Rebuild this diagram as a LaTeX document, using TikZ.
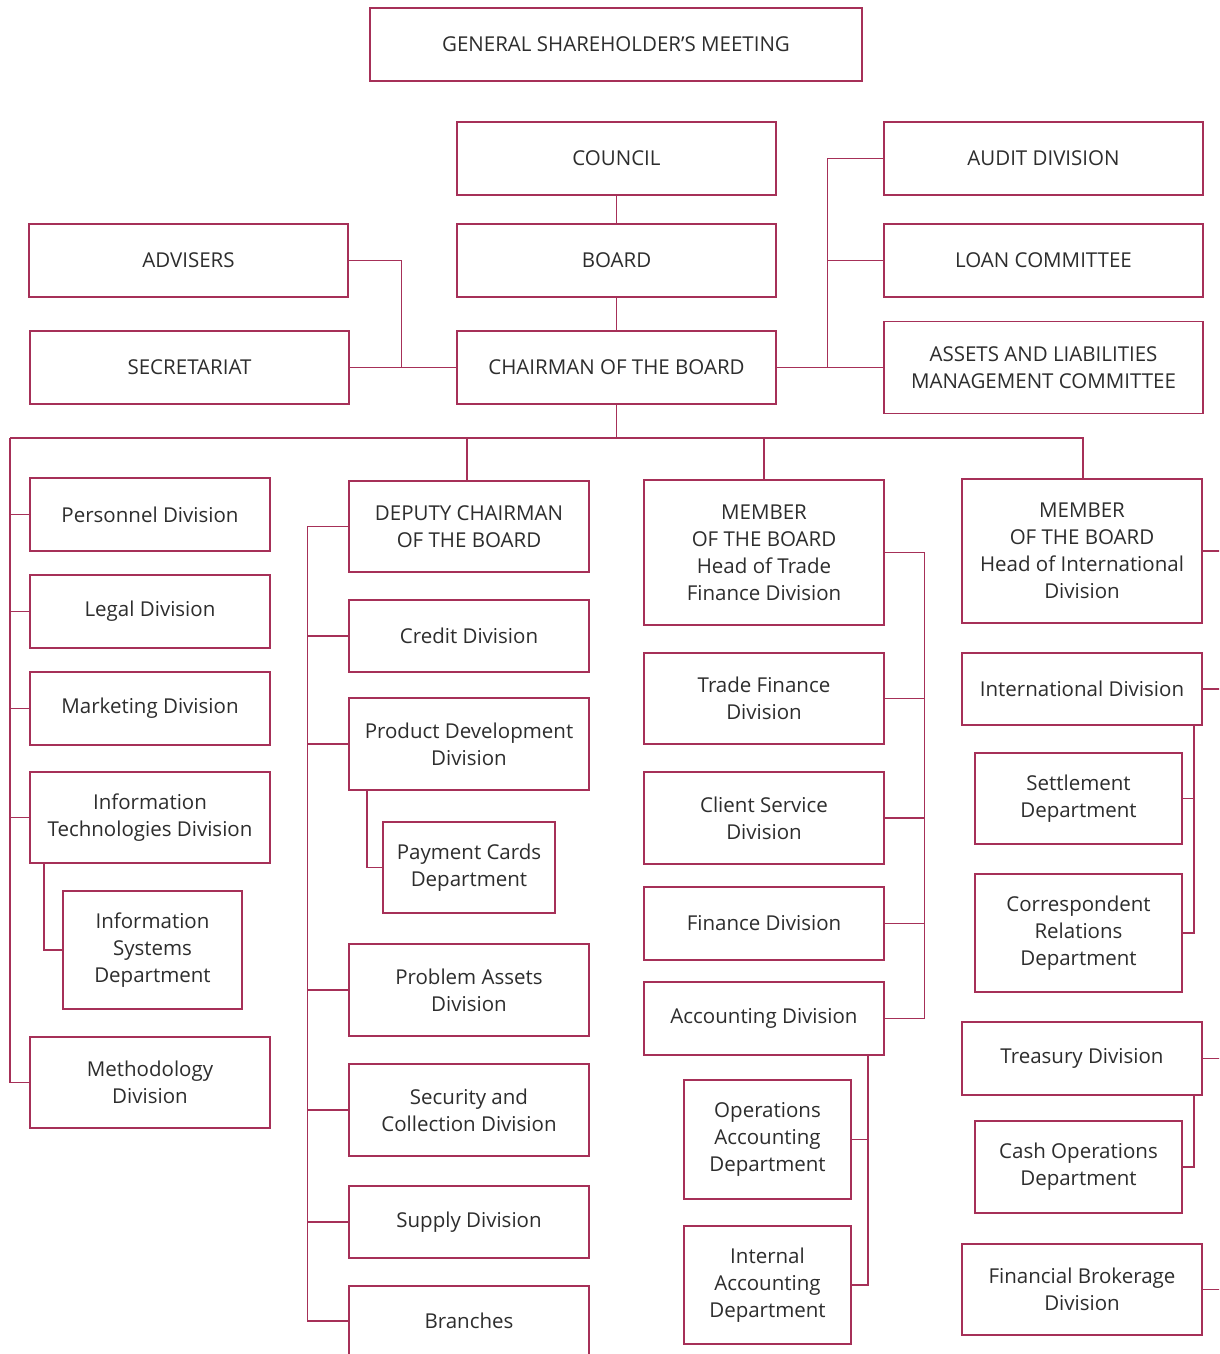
\documentclass[tikz,border=0pt]{standalone}
\usepackage{fontspec}
\setmainfont{Open Sans}
\definecolor{lc}{RGB}{166,48,88}
\definecolor{tc}{RGB}{45,45,45}
\begin{document}
\begin{tikzpicture}[x=1pt,y=-1pt,
  box/.style={draw=lc, line width=1.3pt, align=center, text=tc, inner sep=2pt,
    font=\fontsize{20.5}{27}\selectfont},
  conn/.style={draw=lc, line width=1.3pt}]
\useasboundingbox (0,0) rectangle (1219,1354);
\clip (0,0) rectangle (1219,1354);
\fill[white] (0,0) rectangle (1219,1354);
% top
\node[box, minimum width=492pt, minimum height=73pt] (gsm) at (616,44.5) {GENERAL SHAREHOLDER’S MEETING};
\node[box, minimum width=319pt, minimum height=73pt] (council) at (616.5,158.5) {COUNCIL};
\node[box, minimum width=319pt, minimum height=73pt] (board) at (616.5,260.5) {BOARD};
\node[box, minimum width=319pt, minimum height=73pt] (chair) at (616.5,367.5) {CHAIRMAN OF THE BOARD};
\node[box, minimum width=319pt, minimum height=73pt] (adv) at (188.5,260.5) {ADVISERS};
\node[box, minimum width=319pt, minimum height=73pt] (secr) at (189.5,367.5) {SECRETARIAT};
\node[box, minimum width=319pt, minimum height=73pt] (audit) at (1043.5,158.5) {AUDIT DIVISION};
\node[box, minimum width=319pt, minimum height=73pt] (loan) at (1043.5,260.5) {LOAN COMMITTEE};
\node[box, minimum width=319pt, minimum height=92pt] (alco) at (1043.5,367.5) {ASSETS AND LIABILITIES\\MANAGEMENT COMMITTEE};
% left column
\node[box, minimum width=240pt, minimum height=73pt] (pers) at (150,514.5) {Personnel Division};
\node[box, minimum width=240pt, minimum height=73pt] (legal) at (150,611.5) {Legal Division};
\node[box, minimum width=240pt, minimum height=73pt] (mkt) at (150,708.5) {Marketing Division};
\node[box, minimum width=240pt, minimum height=91pt] (it) at (150,817.5) {Information\\Technologies Division};
\node[box, minimum width=179pt, minimum height=118pt] (isd) at (152.5,950) {Information\\Systems\\Department};
\node[box, minimum width=240pt, minimum height=91pt] (meth) at (150,1082.5) {Methodology\\Division};
% deputy column
\node[box, minimum width=240pt, minimum height=91pt] (dep) at (469,526.5) {DEPUTY CHAIRMAN\\OF THE BOARD};
\node[box, minimum width=240pt, minimum height=72pt] (credit) at (469,636) {Credit Division};
\node[box, minimum width=240pt, minimum height=92pt] (prod) at (469,744) {Product Development\\Division};
\node[box, minimum width=172pt, minimum height=91pt] (pay) at (469,867.5) {Payment Cards\\Department};
\node[box, minimum width=240pt, minimum height=92pt] (prob) at (469,990) {Problem Assets\\Division};
\node[box, minimum width=240pt, minimum height=92pt] (sec) at (469,1110) {Security and\\Collection Division};
\node[box, minimum width=240pt, minimum height=72pt] (supply) at (469,1222) {Supply Division};
\node[box, minimum width=240pt, minimum height=70pt] (branch) at (469,1321) {Branches};
% trade column
\node[box, minimum width=240pt, minimum height=145pt] (memt) at (764,552.5) {MEMBER\\OF THE BOARD\\Head of Trade\\Finance Division};
\node[box, minimum width=240pt, minimum height=91pt] (tfd) at (764,698.5) {Trade Finance\\Division};
\node[box, minimum width=240pt, minimum height=92pt] (csd) at (764,818) {Client Service\\Division};
\node[box, minimum width=240pt, minimum height=73pt] (fin) at (764,923.5) {Finance Division};
\node[box, minimum width=240pt, minimum height=73pt] (acct) at (764,1018.5) {Accounting Division};
\node[box, minimum width=167pt, minimum height=119pt] (ops) at (767.5,1139.5) {Operations\\Accounting\\Department};
\node[box, minimum width=167pt, minimum height=118pt] (inta) at (767.5,1285) {Internal\\Accounting\\Department};
% international column
\node[box, minimum width=240pt, minimum height=144pt] (memi) at (1082,551) {MEMBER\\OF THE BOARD\\Head of International\\Division};
\node[box, minimum width=240pt, minimum height=72pt] (intl) at (1082,689) {International Division};
\node[box, minimum width=207pt, minimum height=91pt] (settle) at (1078.5,798.5) {Settlement\\Department};
\node[box, minimum width=207pt, minimum height=118pt] (corr) at (1078.5,933) {Correspondent\\Relations\\Department};
\node[box, minimum width=240pt, minimum height=73pt] (treas) at (1082,1058.5) {Treasury Division};
\node[box, minimum width=207pt, minimum height=92pt] (cash) at (1078.5,1167) {Cash Operations\\Department};
\node[box, minimum width=240pt, minimum height=91pt] (fbd) at (1082,1289.5) {Financial Brokerage\\Division};
% connectors top
\draw[conn] (council) -- (board);
\draw[conn] (board) -- (chair);
\draw[conn] (adv.east) -- ++(53,0) |- (chair.west);
\draw[conn] (secr.east) -- (chair.west);
\draw[conn] (audit.west) -- ++(-56,0) |- (alco.west);
\draw[conn] (loan.west) -- ++(-56,0);
\draw[conn] (chair.east) -- (alco.west);
% bus
\coordinate (busL) at (10,438);
\coordinate (busR) at (1083,438);
\draw[conn] (chair.south) -- (chair.south |- busL);
\draw[conn] (busL) -- (busR) -- (memi.north -| busR);
\draw[conn] (dep.north -| 467,0) -- (467,438);
\draw[conn] (memt.north) -- (memt.north |- busL);
% left column
\draw[conn] (busL) |- (meth.west);
\foreach \n in {pers,legal,mkt,it} \draw[conn] (\n.west) -- (\n.west -| busL);
\draw[conn] ([xshift=-106pt]it.south) |- (isd.west);
% deputy column
\draw[conn] (dep.west) -- ++(-41,0) |- (branch.west);
\foreach \n in {credit,prod,prob,sec,supply} \draw[conn] (\n.west) -- ++(-41,0);
\draw[conn] ([xshift=-102pt]prod.south) |- (pay.west);
% trade column
\draw[conn] (memt.east) -- ++(40,0) |- (acct.east);
\foreach \n in {tfd,csd,fin} \draw[conn] (\n.east) -- ++(40,0);
\draw[conn] ([xshift=104pt]acct.south) |- (inta.east);
\draw[conn] (ops.east) -- ++(17,0);
% international column
\foreach \n in {memi,intl,treas,fbd} \draw[conn] (\n.east) -- ++(30,0);
\draw[conn] ([xshift=112pt]intl.south) |- (corr.east);
\draw[conn] (settle.east) -- ++(12,0);
\draw[conn] ([xshift=112pt]treas.south) |- (cash.east);
\end{tikzpicture}
\end{document}
